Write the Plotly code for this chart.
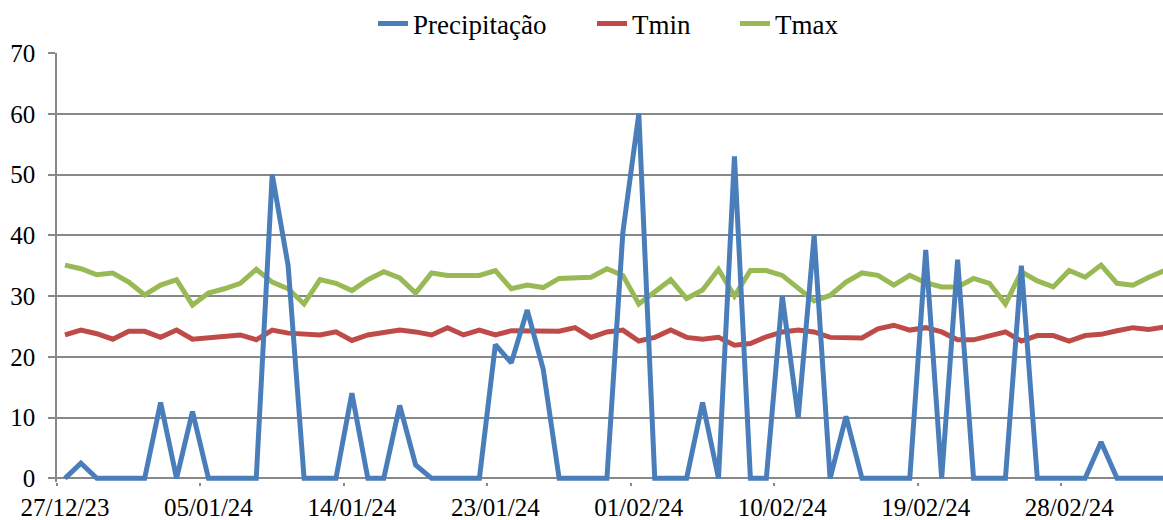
import pandas as pd
import plotly.graph_objects as go

# ---------------- data ----------------
start_date = "2023-12-27"

precipitacao = [0, 2.5, 0, 0, 0, 0, 12.5, 0, 11, 0,
                0, 0, 0, 50, 35, 0, 0, 0, 14, 0,
                0, 12, 2.2, 0, 0, 0, 0, 22, 19, 27.7,
                18, 0, 0, 0, 0, 40.5, 60, 0, 0, 0,
                12.5, 0, 53, 0, 0, 30, 10, 40, 0, 10.2,
                0, 0, 0, 0, 37.6, 0, 36, 0, 0, 0,
                35, 0, 0, 0, 0, 6, 0, 0, 0, 0]

tmin = [23.6, 24.4, 23.8, 22.9, 24.2, 24.2, 23.2, 24.4, 22.9, 23.1,
        23.3, 23.6, 22.8, 24.4, 23.9, 23.8, 23.6, 24.1, 22.7, 23.6,
        24.1, 24.4, 24.1, 23.6, 24.8, 23.6, 24.4, 23.6, 24.3, 24.3,
        24.4, 24.2, 24.8, 23.2, 24.1, 24.4, 22.6, 23.2, 24.4, 23.2,
        22.9, 23.2, 21.9, 22.2, 23.3, 24.1, 24.4, 24.1, 23.2, 23.1,
        23.1, 24.6, 25.2, 24.4, 24.8, 24.1, 22.8, 22.8, 23.5, 24.1,
        22.6, 23.5, 23.5, 22.6, 23.5, 23.7, 24.3, 24.8, 24.5, 24.9]

tmax = [35.1, 34.5, 33.5, 33.8, 32.3, 30.2, 31.8, 32.7, 28.5, 30.5,
        31.2, 32.1, 34.4, 32.3, 31.2, 28.7, 32.7, 32.1, 30.9, 32.7,
        34.0, 33.0, 30.5, 33.8, 33.4, 33.4, 33.4, 34.2, 31.2, 31.8,
        31.4, 32.9, 33.1, 33.1, 34.5, 33.4, 28.7, 30.7, 32.7, 29.6,
        31.0, 34.4, 30.0, 34.2, 34.2, 33.4, 31.2, 29.2, 30.1, 32.3,
        33.8, 33.4, 31.8, 33.4, 32.2, 31.5, 31.5, 32.9, 32.1, 28.7,
        34.0, 32.5, 31.5, 34.2, 33.1, 35.1, 32.1, 31.8, 33.1, 34.2]

series_names = ["Precipitação", "Tmin", "Tmax"]
series_colors = ["#4a7ebb", "#be4b48", "#98b954"]
y_ticks = [0, 10, 20, 30, 40, 50, 60, 70]
label_step_days = 9
date_label_format = "%d/%m/%y"

# ---------------- figure ----------------
GRID = "#888888"
FONT = "Liberation Serif"
W, H = 1163, 520

dates = pd.date_range(start_date, periods=len(precipitacao), freq="D")
half_day = pd.Timedelta(hours=12)
label_dates = dates[::label_step_days]
boundary_dates = label_dates - half_day

plot_width_px = W - 57
px_per_day = 15.94
x_start = dates[0] - half_day
x_end = x_start + pd.Timedelta(days=plot_width_px / px_per_day)

fmt = "%Y-%m-%d %H:%M:%S"

legend_ids = ["legend", "legend2", "legend3"]
legend_left_px = [373, 592, 735]
series_values = [precipitacao, tmin, tmax]

# precipitation is painted last (on top), as in the reference
draw_order = [1, 2, 0]

fig = go.Figure()
for k in draw_order:
    fig.add_trace(go.Scatter(
        x=list(dates.strftime(fmt)), y=series_values[k], mode="lines",
        name=series_names[k],
        line=dict(color=series_colors[k], width=5), legend=legend_ids[k],
    ))

legend_common = dict(
    orientation="h", xref="container", yref="container",
    xanchor="left", y=1 - 24 / H, yanchor="middle",
    font=dict(family=FONT, size=27, color="black"),
    bgcolor="rgba(0,0,0,0)", borderwidth=0,
)
legend_layout = {lg: dict(legend_common, x=px / W)
                 for lg, px in zip(legend_ids, legend_left_px)}

fig.update_layout(
    width=W, height=H,
    margin=dict(l=57, r=0, t=53, b=38, pad=0, autoexpand=False),
    paper_bgcolor="white", plot_bgcolor="white",
    font=dict(family=FONT, size=25, color="black"),
    showlegend=True,
    **legend_layout,
    xaxis=dict(
        type="date", range=[x_start.strftime(fmt), x_end.strftime(fmt)],
        tickmode="array", tickvals=list(label_dates.strftime(fmt)),
        tickformat=date_label_format, ticks="",
        showgrid=False, zeroline=False, showline=False,
        ticklabelstandoff=8,
        tickfont=dict(family=FONT, size=25, color="black"),
        minor=dict(tickmode="array", tickvals=list(boundary_dates.strftime(fmt)),
                   ticks="outside", ticklen=3, tickcolor=GRID, tickwidth=1.5,
                   showgrid=False),
    ),
    yaxis=dict(
        range=[-0.6, 70], tickmode="array", tickvals=y_ticks,
        showgrid=True, gridcolor=GRID, gridwidth=1.5,
        zeroline=False, showline=True, linecolor=GRID, linewidth=1.5,
        ticks="outside", ticklen=7, tickcolor=GRID, tickwidth=1.5,
        ticklabelstandoff=8,
        tickfont=dict(family=FONT, size=25, color="black"),
    ),
)

fig.write_html("out.html")
